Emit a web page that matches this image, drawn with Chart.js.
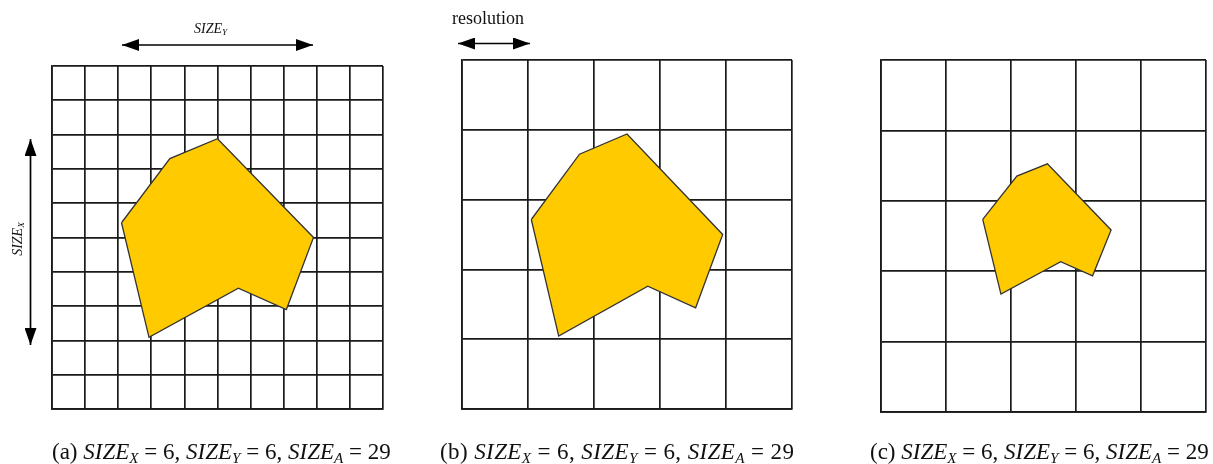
<!DOCTYPE html>
<html>
<head>
<meta charset="utf-8">
<script src="https://cdn.jsdelivr.net/npm/chart.js@4.4.1/dist/chart.umd.min.js"></script>
<style>
  html, body { margin: 0; padding: 0; background: #fff; }
  #stage { position: relative; width: 1213px; height: 464px; overflow: hidden; font-family: "Liberation Serif", "DejaVu Serif", serif; color: #111; }
  canvas { position: absolute; }
  svg.marks { position: absolute; left: 0; top: 0; }
  .txt { position: absolute; white-space: nowrap; line-height: 1; }
  .cap { font-size: 23px; }
  .cap sub, .lbl sub { font-size: 0.66em; vertical-align: -0.25em; line-height: 0; font-style: italic; }
  .lbl { font-size: 14px; font-style: italic; }
  .res { font-size: 18px; }
</style>
</head>
<body>
<div id="stage">
  <canvas id="gridA" width="339" height="351" style="left:48px;top:62px"></canvas>
  <canvas id="gridB" width="338" height="357" style="left:458px;top:56px"></canvas>
  <canvas id="gridC" width="333" height="360" style="left:877px;top:56px"></canvas>

  <svg class="marks" width="1213" height="464" viewBox="0 0 1213 464">
    <defs>
      <marker id="head" viewBox="0 0 17 12" refX="17" refY="6" markerWidth="17" markerHeight="12" markerUnits="userSpaceOnUse" orient="auto-start-reverse">
        <path d="M0,0 L17,6 L0,12 z" fill="#000"/>
      </marker>
    </defs>
    <!-- SIZE_Y span arrow -->
    <line x1="122" y1="45" x2="313" y2="45" stroke="#000" stroke-width="1.7" marker-start="url(#head)" marker-end="url(#head)"/>
    <!-- SIZE_X span arrow -->
    <line x1="30.5" y1="139" x2="30.5" y2="345" stroke="#000" stroke-width="1.7" marker-start="url(#head)" marker-end="url(#head)"/>
    <!-- one-cell resolution arrow -->
    <line x1="458" y1="43.5" x2="530" y2="43.5" stroke="#000" stroke-width="1.7" marker-start="url(#head)" marker-end="url(#head)"/>
  </svg>

  <div class="txt lbl" style="left:194px;top:22px">SIZE<sub>Y</sub></div>
  <div class="txt lbl" style="left:18px;top:239px;transform:translate(-50%,-50%) rotate(-90deg)">SIZE<sub>X</sub></div>
  <div class="txt res" style="left:452px;top:9px">resolution</div>

  <div class="txt cap" style="left:52px;top:440px">(a) <i>SIZE</i><sub>X</sub> = 6, <i>SIZE</i><sub>Y</sub> = 6, <i>SIZE</i><sub>A</sub> = 29</div>
  <div class="txt cap" style="left:440px;top:440px;letter-spacing:0.4px">(b) <i>SIZE</i><sub>X</sub> = 6, <i>SIZE</i><sub>Y</sub> = 6, <i>SIZE</i><sub>A</sub> = 29</div>
  <div class="txt cap" style="left:870px;top:440px">(c) <i>SIZE</i><sub>X</sub> = 6, <i>SIZE</i><sub>Y</sub> = 6, <i>SIZE</i><sub>A</sub> = 29</div>
</div>

<script>
// Area extent shared by every panel (grid units, origin bottom-left)
const areaMin = 0;
const areaMax = 10;

// Cell size of each panel's grid
const cellFine = 1;    // panel (a): 10 x 10 cells
const cellCoarse = 2;  // panels (b), (c): 5 x 5 cells

// Object outline used in panels (a) and (b)
const objectX = [2.10, 3.56, 5.00, 7.90, 7.08, 5.63, 2.93];
const objectY = [5.43, 7.30, 7.88, 5.00, 2.90, 3.52, 2.09];

// Smaller object outline used in panel (c)
const smallObjectX = [3.13, 4.18, 5.12, 7.08, 6.51, 5.53, 3.69];
const smallObjectY = [5.47, 6.70, 7.05, 5.17, 3.87, 4.27, 3.35];

const gridColor = '#1a1a1a';
const fillColor = '#ffcb00';
const edgeColor = '#333333';

// Closed ring of points for a polygon outline
function ring(xs, ys) {
  const pts = xs.map((x, i) => ({ x: x, y: ys[i] }));
  pts.push({ x: xs[0], y: ys[0] });
  return pts;
}

function axis(step) {
  return {
    type: 'linear',
    min: areaMin,
    max: areaMax,
    ticks: { display: false, stepSize: step },
    grid: { color: gridColor, lineWidth: 1.7, drawTicks: false },
    border: { color: gridColor, width: 1.7 }
  };
}

function drawPanel(id, step, xs, ys) {
  new Chart(document.getElementById(id), {
    type: 'scatter',
    data: {
      datasets: [{
        data: ring(xs, ys),
        showLine: true,
        fill: 'shape',
        backgroundColor: fillColor,
        borderColor: edgeColor,
        borderWidth: 1.3,
        pointRadius: 0,
        tension: 0
      }]
    },
    options: {
      responsive: false,
      animation: false,
      events: [],
      layout: { padding: 4 },
      plugins: { legend: { display: false }, tooltip: { enabled: false } },
      scales: { x: axis(step), y: axis(step) }
    }
  });
}

drawPanel('gridA', cellFine, objectX, objectY);
drawPanel('gridB', cellCoarse, objectX, objectY);
drawPanel('gridC', cellCoarse, smallObjectX, smallObjectY);
</script>
</body>
</html>
